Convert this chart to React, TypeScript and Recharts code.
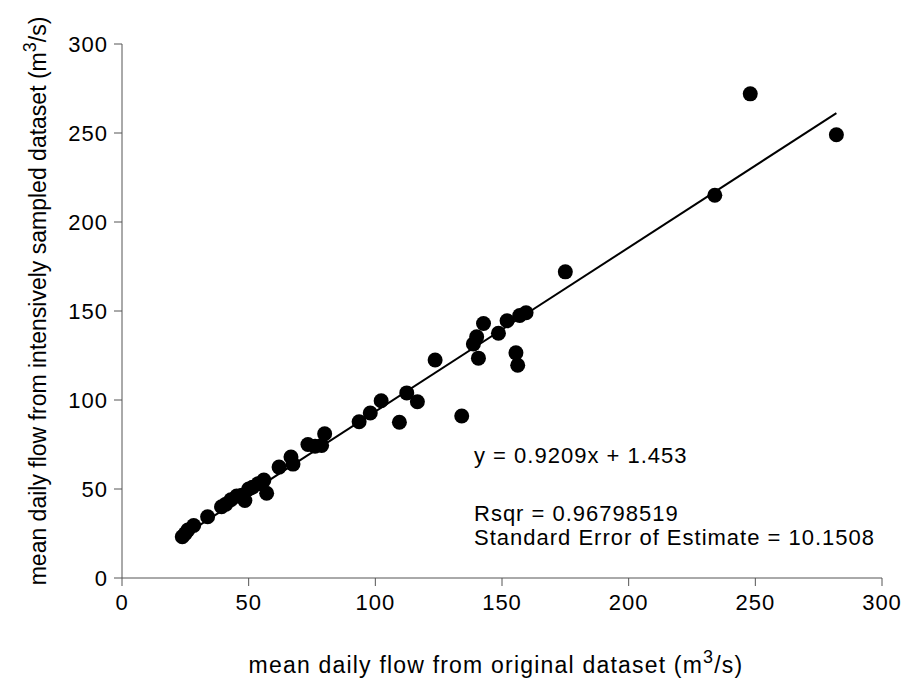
import { ScatterChart, Scatter, XAxis, YAxis, Label, Customized } from 'recharts'

// mean daily flow from original dataset (m3/s)
const originalFlow = [
  248, 282, 234, 175,
  159.5, 157, 152, 142.7, 148.6, 140, 138.7, 140.7, 155.5, 156.2,
  123.6, 134.1, 112.4, 116.6, 109.5, 102.3, 98, 93.6,
  80, 78.8, 76.2, 73.4, 67.5, 66.7, 62, 56, 57.1, 53.8, 51.5, 50, 48.5, 47.3, 45.3, 43, 41, 39.3,
  33.8, 28.3, 26, 25, 23.8,
]
// mean daily flow from intensively sampled dataset (m3/s)
const sampledFlow = [
  272, 249, 215, 172,
  149, 147.5, 144.5, 143, 137.5, 135.5, 131.5, 123.5, 126.5, 119.5,
  122.5, 91, 104, 99, 87.5, 99.6, 92.7, 87.8,
  81, 74.5, 74, 75, 64, 68, 62.3, 55, 47.6, 53, 51, 50, 43.5, 46.5, 46, 44, 41.5, 40,
  34.4, 29.5, 27, 25, 23.2,
]

const fitSlope = 0.9209
const fitIntercept = 1.453
const fitRange = [23, 282]

const axisTicks = [0, 50, 100, 150, 200, 250, 300]

const points = originalFlow.map((x, i) => ({ x, y: sampledFlow[i] }))
const fitLine = fitRange.map(x => ({ x, y: fitSlope * x + fitIntercept }))

const FONT = '"Liberation Sans", Arial, sans-serif'
const AXIS = '#555'
const tickStyle = { fontSize: 22, fill: '#000', fontFamily: FONT, letterSpacing: 1 }

const Dot = (props: any) => <circle cx={props.cx} cy={props.cy} r={7.5} fill="#000" />

function XTitle({ viewBox }: any) {
  const cx = viewBox.x + viewBox.width / 2 - 6
  return (
    <text x={cx} y={viewBox.y + 95} textAnchor="middle" fontSize={23} letterSpacing={1.2} fontFamily={FONT} fill="#000">
      mean daily flow from original dataset (m<tspan dy={-10} fontSize={18}>3</tspan><tspan dy={10}>/s)</tspan>
    </text>
  )
}

function YTitle({ viewBox }: any) {
  const cy = viewBox.y + viewBox.height / 2 - 10
  const x = 46
  return (
    <text x={x} y={cy} transform={`rotate(-90 ${x} ${cy})`} textAnchor="middle" fontSize={23} fontFamily={FONT} fill="#000">
      mean daily flow from intensively sampled dataset (m<tspan dy={-10} fontSize={18}>3</tspan><tspan dy={10}>/s)</tspan>
    </text>
  )
}

function Stats() {
  const t = { fontSize: 22, fontFamily: FONT, fill: '#000', letterSpacing: 1 }
  return (
    <g>
      <text x={474} y={463} {...t}>y = {fitSlope}x + {fitIntercept}</text>
      <text x={474} y={521} {...t}>Rsqr = 0.96798519</text>
      <text x={474} y={545} {...t}>Standard Error of Estimate = 10.1508</text>
    </g>
  )
}

export default function App() {
  return (
    <div style={{ position: 'absolute', left: 0, top: 0, background: '#fff' }}>
      <ScatterChart width={913} height={684} margin={{ top: 44, right: 31, bottom: 46, left: 0 }}>
        <XAxis
          type="number"
          dataKey="x"
          domain={[0, 300]}
          ticks={axisTicks}
          height={60}
          tickSize={8}
          tickMargin={8}
          stroke={AXIS}
          tick={tickStyle}
        >
          <Label content={XTitle} />
        </XAxis>
        <YAxis
          type="number"
          dataKey="y"
          domain={[0, 300]}
          ticks={axisTicks}
          width={122}
          tickSize={8}
          tickMargin={6}
          stroke={AXIS}
          tick={tickStyle}
        >
          <Label content={YTitle} />
        </YAxis>
        <Scatter
          data={fitLine}
          line={{ stroke: '#000', strokeWidth: 2 }}
          shape={() => <g />}
          isAnimationActive={false}
        />
        <Scatter data={points} shape={Dot} isAnimationActive={false} />
        <Customized component={Stats} />
      </ScatterChart>
    </div>
  )
}
